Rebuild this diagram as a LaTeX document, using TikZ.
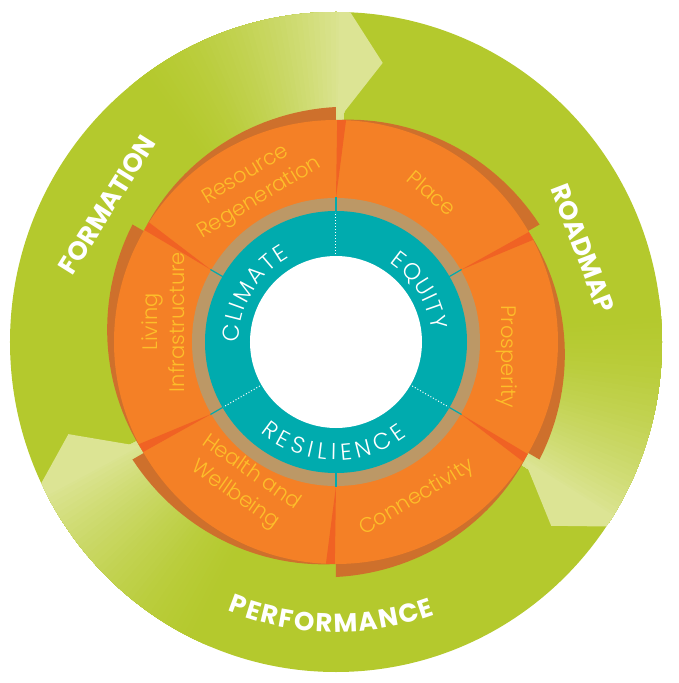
\documentclass[tikz,border=0pt]{standalone}
\usepackage{fontspec}
\setmainfont{Poppins}
\newfontfamily\lightfont{Poppins Light}
\usepackage{tikz}
\usetikzlibrary{decorations.text}

\definecolor{wheelgreen}{RGB}{180,201,45}
\definecolor{wheellight}{RGB}{220,228,148}
\definecolor{segorange}{RGB}{244,128,38}
\definecolor{segdark}{RGB}{206,112,44}
\definecolor{segfold}{RGB}{240,98,36}
\definecolor{ringtan}{RGB}{188,152,102}
\definecolor{ringteal}{RGB}{0,171,174}
\definecolor{labelyellow}{RGB}{253,190,42}

\newcommand{\tealtext}{\lightfont\fontsize{23}{23}\selectfont\color{white}}
\newcommand{\stagetext}{\bfseries\fontsize{26}{26}\selectfont\color{white}}

\begin{document}
\begin{tikzpicture}[x=1pt, y=1pt, every node/.style={inner sep=0pt}]
\tikzstyle{pillar} = [text=labelyellow, align=center, font=\lightfont\fontsize{21}{27}\selectfont]
\tikzstyle{stage} = [text=white, font=\stagetext]
\tikzstyle{curved} = [decorate, decoration={text along path, text align=fit to path}]

\useasboundingbox (-336,-341) rectangle (343,342);

\fill[wheelgreen] (0,0) ellipse[x radius=326, y radius=330];
\begin{scope}
\clip (0,0) ellipse[x radius=326, y radius=330];
\foreach \base/\tip in {89/80.5, -32.5/-40.5, -152.5/-161}{
  \foreach \k [evaluate=\k as \m using int(100*(1-\k/40)^1.6)] in {40,39,...,1}
    \fill[wheellight!\m!wheelgreen] ({\base-1}:220) -- ({\base-1}:340)
      arc[start angle=\base-1, end angle=\base+\k, radius=340] -- ({\base+\k}:220) -- cycle;
  \fill[wheellight] ({\base+0.5}:222) -- (\tip:283) -- ({\base-1.5}:330) -- ({\base-1.5}:340) -- ({\base+0.5}:340) -- cycle;
}
\end{scope}

\foreach \a in {-150,-90,...,150}
  \fill[segdark] (0,0) -- plot[domain=\a:\a+60, samples=31] (\x:{222+13*(\a+60-\x)/60}) -- cycle;
\fill[segorange] (0,0) circle (222);
\foreach \a in {-150,-90,...,150}
  \fill[segfold] (\a:144) -- ({\a-0.3}:222) -- ({\a-2.6}:222) -- cycle;

\fill[ringtan] (0,0) circle (144);
\fill[ringteal] (0,0) circle (131);
\fill[white] (0,0) circle (86);
\foreach \a in {-150,-90,...,150}
  \draw[ringteal, line width=1.2pt] (\a:130) -- (\a:145);
\foreach \a in {90,-30,-150}
  \draw[white, line width=1pt, dotted] (\a:88) -- (\a:130);

\path[curved, decoration={text={|\tealtext|CLIMATE}}] (180.5:97) arc[start angle=180.5, end angle=119, radius=97];
\path[curved, decoration={text={|\tealtext|EQUITY}}] (56:96) arc[start angle=56, end angle=7, radius=96];
\path[curved, decoration={text={|\tealtext|RESILIENCE}}] (-130:118) arc[start angle=-130, end angle=-53, radius=118];

\node[pillar, rotate=31] (resource) at (-83,155) {Resource\\Regeneration};
\node[pillar, rotate=-40] (place) at (96,149) {Place};
\node[pillar, rotate=-90] (prosperity) at (171,-15) {Prosperity};
\node[pillar, rotate=31] (connectivity) at (81,-156) {Connectivity};
\node[pillar, rotate=-35] (health) at (-93,-142) {Health and\\Wellbeing};
\node[pillar, rotate=90] (living) at (-173,20) {Living\\Infrastructure};

\node[stage, rotate=58] (formation) at (-229,137) {FORMATION};
\node[stage, rotate=-69] (roadmap) at (247,94) {ROADMAP};
\path[curved, decoration={text={|\stagetext|PERFORMANCE}}] (-112:290) arc[start angle=-112, end angle=-70, radius=290];
\end{tikzpicture}
\end{document}
